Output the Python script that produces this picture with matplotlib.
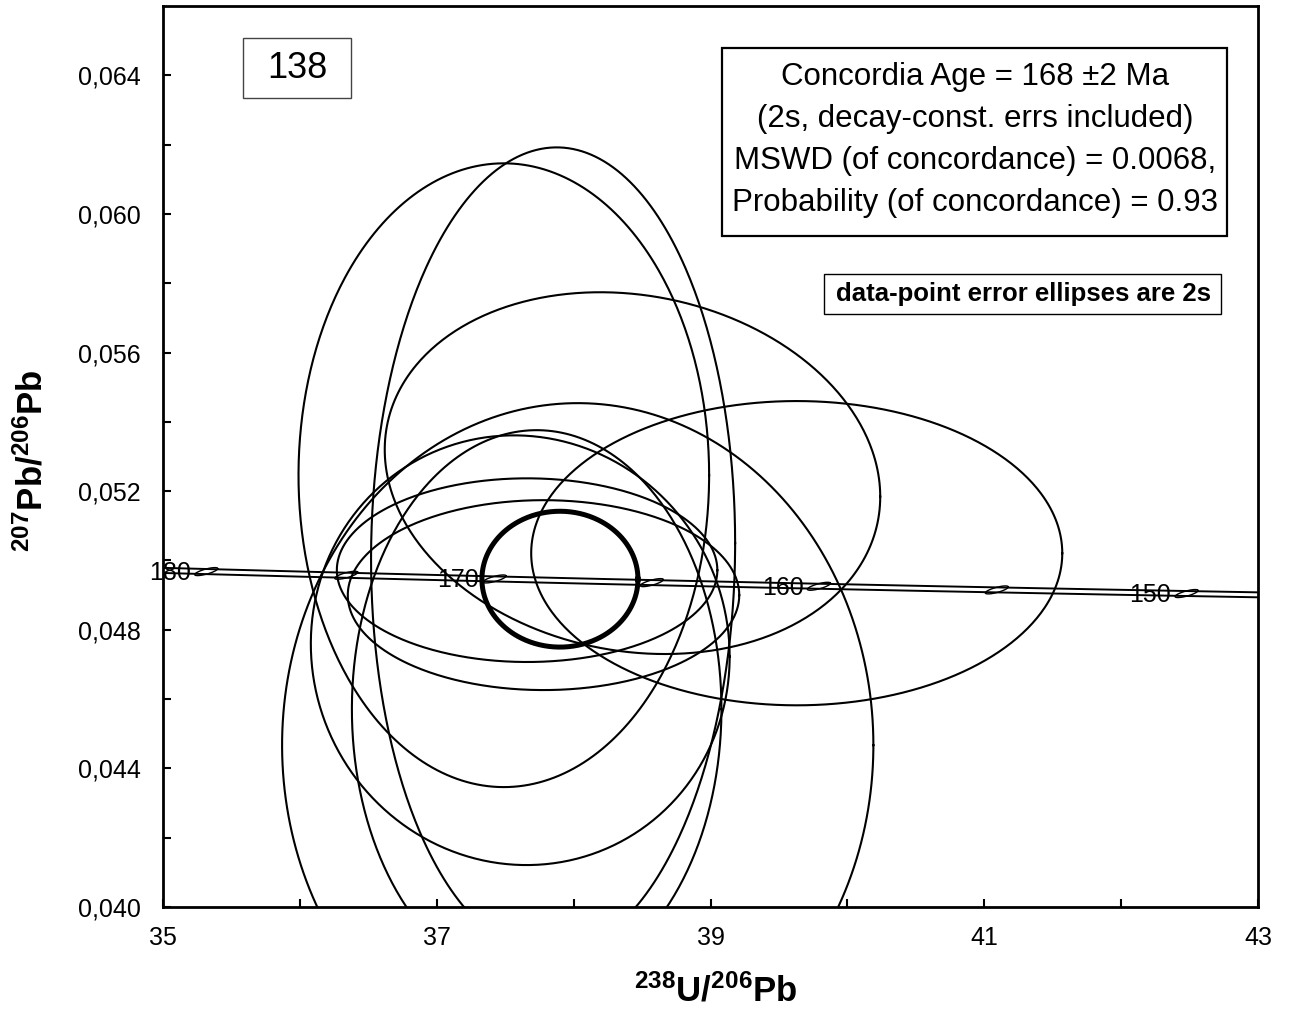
import numpy as np
import matplotlib
matplotlib.use("Agg")
import matplotlib.pyplot as plt
from matplotlib.patches import Rectangle
from matplotlib.ticker import FuncFormatter

plt.rcParams['font.family'] = ['Liberation Sans', 'DejaVu Sans']
plt.rcParams['mathtext.fontset'] = 'custom'
plt.rcParams['mathtext.rm'] = 'Liberation Sans'
plt.rcParams['mathtext.bf'] = 'Liberation Sans:bold'

# data-point error ellipses (2s): 238U/206Pb, err, 207Pb/206Pb, err, rho
u_pb = [37.49, 37.85, 38.43, 39.63, 37.61, 38.03, 37.73, 37.66, 37.78]
u_err = [1.50, 1.33, 1.81, 1.94, 1.53, 2.16, 1.35, 1.39, 1.43]
pb_pb = [0.05246, 0.05027, 0.05252, 0.05021, 0.04741, 0.04467, 0.04571, 0.04972, 0.04900]
pb_err = [0.00900, 0.01165, 0.00522, 0.00439, 0.00620, 0.00987, 0.00805, 0.00265, 0.00274]
rho = [0.0, 0.02, -0.13, 0.0, -0.03, 0.0, 0.0, 0.0, 0.0]

# concordia age ellipse
age_x, age_xerr = 37.90, 0.57
age_y, age_yerr = 0.04946, 0.00196

# concordia curve (decay constants, 1/yr)
lam238 = 1.55125e-10
lam235 = 9.8485e-10
lam235_err = 0.00136
u_ratio = 137.88
tick_ages = [150, 155, 160, 165, 170, 175, 180]
label_ages = [150, 160, 170, 180]


def conc(t_ma, l235=lam235):
    t = np.asarray(t_ma) * 1e6
    e8 = np.exp(lam238 * t) - 1
    e5 = np.exp(l235 * t) - 1
    return 1 / e8, e5 / e8 / u_ratio


def ellipse(x, sx, y, sy, r, n=500):
    t = np.linspace(0, 2 * np.pi, n)
    xs = x + sx * np.cos(t)
    ys = y + sy * (r * np.cos(t) + np.sqrt(1 - r ** 2) * np.sin(t))
    return xs, ys


fig = plt.figure(figsize=(12.95, 10.15), dpi=100)
ax = fig.add_axes([163 / 1295, 108 / 1015, 1095 / 1295, 901 / 1015])

# concordia band
ages = np.linspace(140, 190, 400)
for k in (1 - lam235_err, 1 + lam235_err):
    cx, cy = conc(ages, lam235 * k)
    ax.plot(cx, cy, color='black', lw=1.4, zorder=3)

# small age markers on concordia
for a in tick_ages:
    mx, my = conc(a)
    ex, ey = ellipse(mx, 0.084, my, 0.000115, 0.75, 100)
    ax.plot(ex, ey, color='black', lw=1.0, zorder=3)
    if a in label_ages:
        ax.annotate(str(a), (mx, my), xytext=(-11, -1), textcoords='offset points',
                    ha='right', va='center', fontsize=18, zorder=4)

# data ellipses
for i in range(len(u_pb)):
    ex, ey = ellipse(u_pb[i], u_err[i], pb_pb[i], pb_err[i], rho[i])
    ax.plot(ex, ey, color='black', lw=1.5, zorder=2)

# concordia age ellipse
ex, ey = ellipse(age_x, age_xerr, age_y, age_yerr, 0.0)
ax.plot(ex, ey, color='black', lw=3.6, zorder=5)

ax.set_xlim(35, 43)
ax.set_ylim(0.040, 0.066)
ax.set_xticks([35, 37, 39, 41, 43])
ax.set_xticks([36, 38, 40, 42], minor=True)
ax.set_yticks([0.040, 0.044, 0.048, 0.052, 0.056, 0.060, 0.064])
ax.set_yticks([0.042, 0.046, 0.050, 0.054, 0.058, 0.062], minor=True)
ax.yaxis.set_major_formatter(FuncFormatter(lambda v, p: f"{v:.3f}".replace('.', ',')))
ax.tick_params(which='both', direction='in', length=6, width=1.5, top=False, right=False)
ax.tick_params(axis='x', which='major', labelsize=18, pad=14)
ax.tick_params(axis='y', which='major', labelsize=18, pad=16)
for s in ax.spines.values():
    s.set_linewidth(2.0)

ax.set_xlabel(r'$\mathbf{^{238}U/^{206}Pb}$', fontsize=25)
ax.set_ylabel(r'$\mathbf{^{207}Pb/^{206}Pb}$', fontsize=25)
ax.xaxis.set_label_coords(0.505, -0.074)
ax.yaxis.set_label_coords(-0.104, 0.495)

# text boxes (figure pixels -> fractions)
W, H = 1295, 1015


def box(x0, y0, x1, y1, lw, color='black'):
    fig.patches.append(Rectangle((x0 / W, 1 - y1 / H), (x1 - x0) / W, (y1 - y0) / H,
                                 transform=fig.transFigure, fill=True, facecolor='white',
                                 edgecolor=color, lw=lw, zorder=10))


box(243, 38, 351, 98, 1.0, '#444444')
fig.text(297 / W, 1 - 69 / H, '138', ha='center', va='center', fontsize=26, zorder=11)

box(722, 48, 1227, 236, 1.6)
lines = ['Concordia Age = 168 \u00b12 Ma',
         '(2s, decay-const. errs included)',
         'MSWD (of concordance) = 0.0068,',
         'Probability (of concordance) = 0.93']
for i, s in enumerate(lines):
    fig.text(975 / W, 1 - (77 + 42 * i) / H, s, ha='center', va='center', fontsize=22.5, zorder=11)

box(824, 274, 1221, 314, 1.0)
fig.text(1024 / W, 1 - 294 / H, 'data-point error ellipses are 2s', ha='center', va='center',
         fontsize=18.5, fontweight='bold', zorder=11)

fig.savefig('out.png', dpi=100)
